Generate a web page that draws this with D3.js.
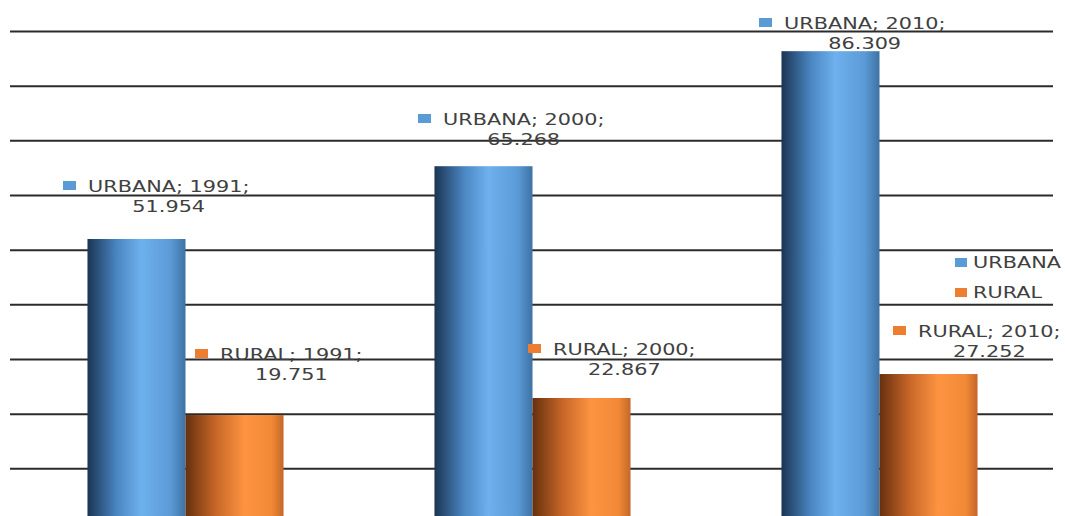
<!DOCTYPE html>
<html>
<head>
<meta charset="utf-8">
<script src="https://cdn.jsdelivr.net/npm/d3@7"></script>
<style>
  body { margin: 0; background: #fff; }
  text { font-family: "DejaVu Sans", sans-serif; }
</style>
</head>
<body>
<div id="chart"></div>
<script>
// data
var years = ["1991", "2000", "2010"];
var seriesNames = ["URBANA", "RURAL"];
var urbana = [51.954, 65.268, 86.309];
var rural = [19.751, 22.867, 27.252];
var gridTicks = [10, 20, 30, 40, 50, 60, 70, 80, 90];

var svgWidth = 1065;
var svgHeight = 516;

var svg = d3.select("#chart")
  .append("svg")
  .attr("width", svgWidth)
  .attr("height", svgHeight);

// the chart is cropped: zero sits just below the bottom edge
var yScale = d3.scaleLinear()
  .domain([0, 90])
  .range([523, 31]);

var xScale = d3.scaleBand()
  .domain(years)
  .range([12, 1053])
  .paddingInner(0.435)
  .paddingOuter(0.2175);

var xInner = d3.scaleBand()
  .domain(seriesNames)
  .range([0, xScale.bandwidth()]);

var colors = { URBANA: "#5b9bd5", RURAL: "#ed7d31" };

// bar gradients
var defs = svg.append("defs");
var blue = defs.append("linearGradient").attr("id", "gURBANA");
[[0, "#1b3553"], [0.3, "#4a86c2"], [0.55, "#6eb1ee"], [0.85, "#5b9ad6"], [1, "#3e72a4"]]
  .forEach(s => blue.append("stop").attr("offset", s[0]).attr("stop-color", s[1]));
var orange = defs.append("linearGradient").attr("id", "gRURAL");
[[0, "#66300e"], [0.3, "#c56527"], [0.6, "#fe9441"], [0.88, "#f18936"], [1, "#c4672a"]]
  .forEach(s => orange.append("stop").attr("offset", s[0]).attr("stop-color", s[1]));

// gridlines
svg.append("g")
  .attr("transform", "translate(1053,0)")
  .call(d3.axisLeft(yScale).tickValues(gridTicks).tickSize(1043).tickFormat(""))
  .call(g => g.select(".domain").remove())
  .call(g => g.selectAll(".tick line").attr("stroke", "#2b2b2b").attr("stroke-width", 2));

var rows = years.map((y, i) => ({ year: y, URBANA: urbana[i], RURAL: rural[i] }));

var groups = svg.selectAll(".grp")
  .data(rows)
  .enter()
  .append("g")
  .attr("transform", d => `translate(${xScale(d.year)},0)`);

groups.selectAll("rect")
  .data(d => seriesNames.map(s => ({ key: s, value: d[s] })))
  .enter()
  .append("rect")
  .attr("x", d => xInner(d.key))
  .attr("width", xInner.bandwidth())
  .attr("y", d => yScale(d.value))
  .attr("height", d => yScale(0) - yScale(d.value))
  .attr("fill", d => `url(#g${d.key})`);

// data labels: marker + "NAME; YEAR;" then value centred below
var labelSpots = {
  URBANA: [[63, 192], [418, 125], [759, 29]],
  RURAL: [[195, 360], [528, 355], [893, 337]]
};
var sx = 1.3;
var fs = 16;

function drawLabel(x, base, name, year, value) {
  var g = svg.append("g").attr("transform", `translate(${x},${base}) scale(${sx},1)`);
  g.append("rect")
    .attr("x", 0).attr("y", -11)
    .attr("width", 13 / sx).attr("height", 9)
    .attr("fill", colors[name]);
  var t = g.append("text")
    .attr("x", 25 / sx).attr("y", 0)
    .attr("font-size", fs)
    .attr("fill", "#404040")
    .text(name + "; " + year + ";");
  var w = t.node().getComputedTextLength();
  g.append("text")
    .attr("x", 25 / sx + w / 2).attr("y", 20)
    .attr("text-anchor", "middle")
    .attr("font-size", fs)
    .attr("fill", "#404040")
    .text(value.toFixed(3));
}

years.forEach((y, i) => {
  drawLabel(labelSpots.URBANA[i][0], labelSpots.URBANA[i][1], "URBANA", y, urbana[i]);
  drawLabel(labelSpots.RURAL[i][0], labelSpots.RURAL[i][1], "RURAL", y, rural[i]);
});

// legend
var legend = svg.selectAll(".legend")
  .data(seriesNames)
  .enter()
  .append("g")
  .attr("transform", (d, i) => `translate(955,${268 + i * 30}) scale(${sx},1)`);

legend.append("rect")
  .attr("x", 0).attr("y", -10)
  .attr("width", 12 / sx).attr("height", 9)
  .attr("fill", d => colors[d]);

legend.append("text")
  .attr("x", 18 / sx).attr("y", 0)
  .attr("font-size", fs)
  .attr("fill", "#404040")
  .text(d => d);
</script>
</body>
</html>
